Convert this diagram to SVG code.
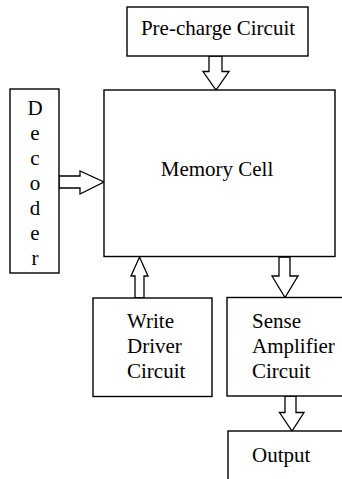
<svg xmlns="http://www.w3.org/2000/svg" width="342" height="479" viewBox="0 0 342 479">
  <style>
    .box { fill: #ffffff; stroke: #000000; stroke-width: 1.4; }
    .arrow { fill: #ffffff; stroke: #000000; stroke-width: 1.3; stroke-linejoin: miter; }
    .lbl { font-family: "Liberation Serif", "Times New Roman", serif; font-size: 21px; fill: #000000; }
    .mid { text-anchor: middle; }
  </style>
  <rect width="342" height="479" fill="#ffffff"/>

  <g id="connectors">
    <!-- pre-charge -> memory cell -->
    <polygon class="arrow" points="209,56 222,56 222,71.5 229,71.5 216,90 203,71.5 209,71.5"/>
    <!-- decoder -> memory cell -->
    <polygon class="arrow" points="59,176 80,176 80,171 104,182 80,194 80,188 59,188"/>
    <!-- write driver -> memory cell -->
    <polygon class="arrow" points="135,298 144,298 144,276 148,276 139.5,257 131,276 135,276"/>
    <!-- memory cell -> sense amplifier -->
    <polygon class="arrow" points="279,257 290,257 290,276 298,276 285,297.5 272,276 279,276"/>
    <!-- sense amplifier -> output -->
    <polygon class="arrow" points="285,396 296,396 296,412.5 304,412.5 292,431 279.5,412.5 285,412.5"/>
  </g>

  <g id="precharge">
    <rect class="box" x="127" y="7" width="181" height="49"/>
    <text class="lbl mid" x="218" y="35">Pre-charge Circuit</text>
  </g>

  <g id="memory-cell">
    <rect class="box" x="104" y="90" width="231" height="166.5"/>
    <text class="lbl mid" x="217" y="176">Memory Cell</text>
  </g>

  <g id="decoder">
    <rect class="box" x="10" y="89" width="49" height="184"/>
    <text class="lbl mid" x="35" y="115">D</text>
    <text class="lbl mid" x="35" y="140">e</text>
    <text class="lbl mid" x="35" y="165">c</text>
    <text class="lbl mid" x="35" y="190">o</text>
    <text class="lbl mid" x="35" y="215">d</text>
    <text class="lbl mid" x="35" y="240">e</text>
    <text class="lbl mid" x="35" y="265">r</text>
  </g>

  <g id="write-driver">
    <rect class="box" x="93" y="298" width="119" height="98.5"/>
    <text class="lbl" x="127" y="328">Write</text>
    <text class="lbl" x="127" y="353">Driver</text>
    <text class="lbl" x="127" y="378">Circuit</text>
  </g>

  <g id="sense-amplifier">
    <rect class="box" x="227" y="297.5" width="130" height="98.5"/>
    <text class="lbl" x="252" y="328">Sense</text>
    <text class="lbl" x="252" y="353">Amplifier</text>
    <text class="lbl" x="252" y="378">Circuit</text>
  </g>

  <g id="output">
    <rect class="box" x="228" y="431" width="130" height="70"/>
    <text class="lbl" x="252" y="462">Output</text>
  </g>
</svg>
